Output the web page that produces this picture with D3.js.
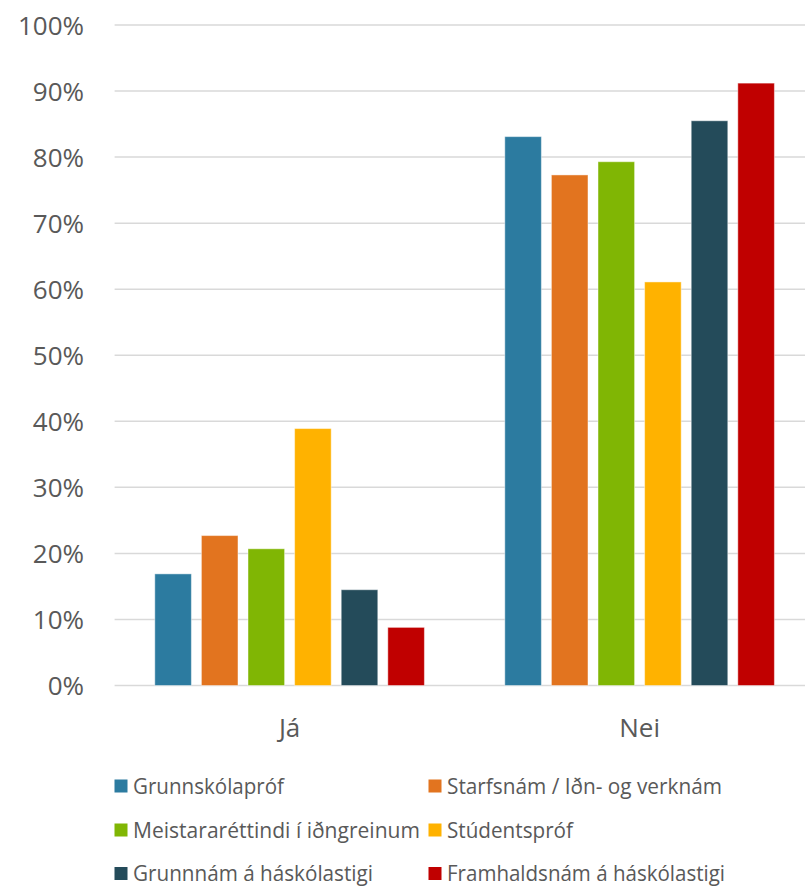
<!DOCTYPE html>
<html><head><meta charset="utf-8">
<script src="https://cdn.jsdelivr.net/npm/d3@7"></script>
<style>body{margin:0;background:#fff}svg{display:block}</style>
</head><body><svg id="c" width="805" height="886"></svg>
<script>
const categories = ["Já", "Nei"];
const seriesNames = ["Grunnskólapróf", "Starfsnám / Iðn- og verknám", "Meistararéttindi í iðngreinum", "Stúdentspróf", "Grunnnám á háskólastigi", "Framhaldsnám á háskólastigi"];
const seriesColors = ["#2C7BA0", "#E2741F", "#80B604", "#FFB200", "#244B5A", "#C00000"];
const jaValues = [16.9, 22.7, 20.7, 38.9, 14.5, 8.8];
const neiValues = [83.1, 77.3, 79.3, 61.1, 85.5, 91.2];
const yTicks = [0, 10, 20, 30, 40, 50, 60, 70, 80, 90, 100];

(function () {
const values = [jaValues, neiValues];
const svg = d3.select("#c");
const font = "'Open Sans', sans-serif";
const pLeft = 114.6, pRight = 814.6, pTop = 25, pBottom = 685.5;

const y = d3.scaleLinear().domain([0, 100]).range([pBottom, pTop]);
const x0 = d3.scaleBand().domain(categories).range([pLeft, pRight]).paddingInner(0).paddingOuter(0);
const x1 = d3.scaleBand().domain(d3.range(seriesNames.length)).range([40.2, 350 - 40.2]).paddingInner(0.215).paddingOuter(0);

svg.append("g").selectAll("line").data(yTicks).join("line")
  .attr("x1", pLeft).attr("x2", 805)
  .attr("y1", d => y(d)).attr("y2", d => y(d))
  .attr("stroke", "#d9d9d9").attr("stroke-width", 1.5);

const yAxis = d3.axisLeft(y).tickValues(yTicks).tickFormat(d => d + "%").tickSize(0).tickPadding(0);
const ga = svg.append("g").attr("transform", `translate(84,0)`).call(yAxis);
ga.select(".domain").remove();
ga.selectAll("text").attr("font-family", font).attr("font-size", 26).attr("font-weight", 400)
  .attr("fill", "#595959").attr("dy", "0.36em");

categories.forEach((c, ci) => {
  const g = svg.append("g").attr("transform", `translate(${x0(c)},0)`);
  g.selectAll("rect").data(values[ci]).join("rect")
    .attr("x", (d, i) => x1(i)).attr("width", x1.bandwidth())
    .attr("y", d => y(d)).attr("height", d => y(0) - y(d))
    .attr("fill", (d, i) => seriesColors[i])
    .attr("stroke", "rgba(255,255,255,0.45)").attr("stroke-width", 1);
});

svg.append("g").selectAll("text").data(categories).join("text")
  .attr("x", d => x0(d) + 175).attr("y", 737)
  .attr("text-anchor", "middle").attr("font-family", font).attr("font-size", 26).attr("font-weight", 400)
  .attr("fill", "#595959").text(d => d);

const legPos = [[114.5, 786], [428.5, 786], [114.5, 830], [428.5, 830], [114.5, 873.5], [428.5, 873.5]];
const lg = svg.append("g").selectAll("g").data(seriesNames).join("g")
  .attr("transform", (d, i) => `translate(${legPos[i][0]},${legPos[i][1]})`);
lg.append("rect").attr("x", 0).attr("y", -6.5).attr("width", 13).attr("height", 13)
  .attr("fill", (d, i) => seriesColors[i]);
lg.append("text").attr("x", 18.5).attr("y", 0).attr("dy", "0.36em")
  .attr("font-family", font).attr("font-size", 21.5).attr("font-weight", 400).attr("fill", "#595959")
  .attr("textLength", (d, i) => [151, 275, 287, 126, 240, 278][i]).attr("lengthAdjust", "spacingAndGlyphs")
  .text(d => d);
})();
</script></body></html>
